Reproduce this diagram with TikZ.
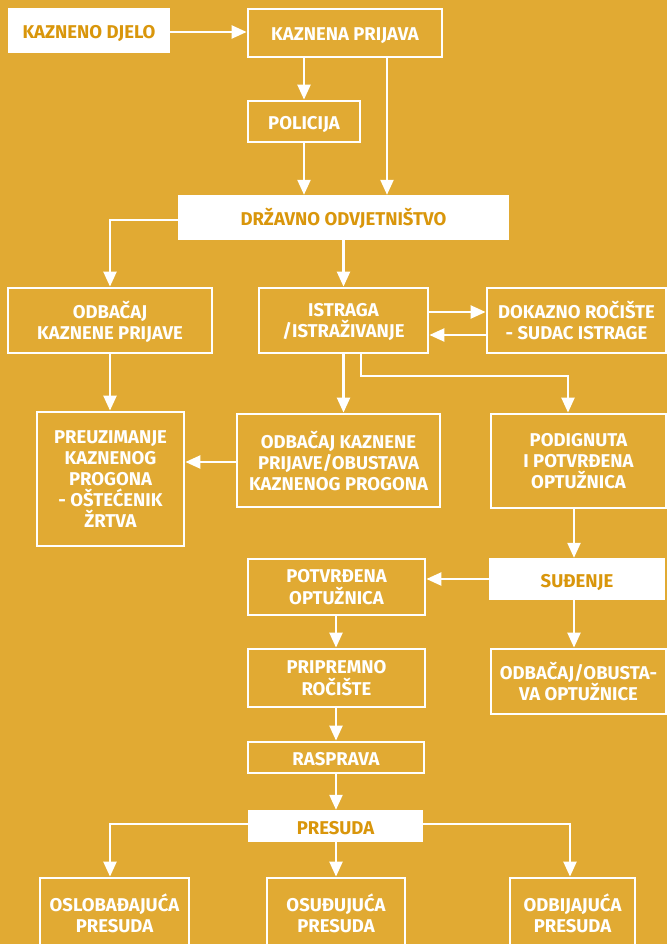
\documentclass[tikz,border=0pt]{standalone}
\usepackage{fontspec}
\newfontfamily\boxfont{Fira Sans}
\usetikzlibrary{arrows.meta}
\definecolor{bgc}{HTML}{E1AA33}
\definecolor{goldtxt}{HTML}{D9960B}
\tikzset{
  base/.style={inner sep=0pt, align=center, text depth=-4pt, font=\boxfont\bfseries\fontsize{18.5}{21.2}\selectfont},
  one/.style={text height=16pt, text depth=0pt},
  obox/.style={base, draw=white, line width=2.8pt, text=white},
  wbox/.style={base, fill=white, text=goldtxt},
  conn/.style={draw=white, line width=2.3pt, -{Triangle[length=15pt,width=13pt]}},
}
\begin{document}
\begin{tikzpicture}[x=1pt,y=-1pt]
\useasboundingbox (0,0) rectangle (667,944);
\fill[bgc] (0,0) rectangle (667,944);
\begin{scope}
\clip (0,0) rectangle (667,944);
\node[wbox, one, minimum width=162pt, minimum height=45pt] (kd) at (89,30.5) {KAZNENO DJELO};
\node[obox, one, minimum width=194pt, minimum height=48pt] (kp) at (345,33) {KAZNENA PRIJAVA};
\node[obox, one, minimum width=112pt, minimum height=41pt] (pol) at (304,121.5) {POLICIJA};
\node[wbox, one, minimum width=331pt, minimum height=45pt] (dor) at (343.5,217.5) {DRŽAVNO ODVJETNIŠTVO};
\node[obox, minimum width=204pt, minimum height=65pt] (odb) at (110,320.5) {ODBAČAJ\\KAZNENE PRIJAVE};
\node[obox, minimum width=169pt, minimum height=65pt] (ist) at (343.5,320.5) {ISTRAGA\\/ISTRAŽIVANJE};
\node[obox, minimum width=179pt, minimum height=65pt] (dok) at (576.5,320.5) {DOKAZNO ROČIŠTE\\- SUDAC ISTRAGE};
\node[obox, minimum width=147pt, minimum height=134pt] (pre) at (110.5,479) {PREUZIMANJE\\KAZNENOG\\PROGONA\\- OŠTEĆENIK\\ŽRTVA};
\node[obox, minimum width=203pt, minimum height=93pt] (oko) at (338.5,460.5) {ODBAČAJ KAZNENE\\PRIJAVE/OBUSTAVA\\KAZNENOG PROGONA};
\node[obox, minimum width=175pt, minimum height=94pt] (pod) at (578.5,461) {PODIGNUTA\\I POTVRĐENA\\OPTUŽNICA};
\node[obox, minimum width=177pt, minimum height=56pt] (pot) at (336.5,587) {POTVRĐENA\\OPTUŽNICA};
\node[wbox, one, minimum width=176pt, minimum height=42pt] (sud) at (577,579) {SUĐENJE};
\node[obox, minimum width=177pt, minimum height=58pt] (prip) at (336.5,678) {PRIPREMNO\\ROČIŠTE};
\node[obox, minimum width=175pt, minimum height=65pt] (oo) at (578.5,681.5) {ODBAČAJ/OBUSTA-\\VA OPTUŽNICE};
\node[obox, one, minimum width=176pt, minimum height=31pt] (ras) at (336,757.5) {RASPRAVA};
\node[wbox, one, minimum width=175pt, minimum height=32pt] (pres) at (335.5,826) {PRESUDA};
\node[obox, minimum width=149pt, minimum height=70pt] (osl) at (114.5,913) {OSLOBAĐAJUĆA\\PRESUDA};
\node[obox, minimum width=138pt, minimum height=70pt] (osu) at (336,913) {OSUĐUJUĆA\\PRESUDA};
\node[obox, minimum width=125pt, minimum height=70pt] (odbi) at (572.5,913) {ODBIJAJUĆA\\PRESUDA};
\end{scope}
% helper coordinates
\coordinate (y32) at (0,32);
\coordinate (x387) at (387,0);
\coordinate (y220) at (0,220);
\coordinate (y312) at (0,312);
\coordinate (y335) at (0,335);
\coordinate (x361) at (361,0);
\coordinate (x568) at (568,0);
\coordinate (y462) at (0,462);
\coordinate (x574) at (574,0);
\coordinate (y579) at (0,579);
\coordinate (x336) at (336,0);
\coordinate (y824) at (0,824);
\coordinate (x110) at (110,0);
\coordinate (x570) at (570,0);
\coordinate (bend) at (568,376);
% connectors
\draw[conn] (kd.east |- y32) -- (kp.west |- y32);
\draw[conn] (kp.south -| pol) -- (pol.north);
\draw[conn] (kp.south -| x387) -- (dor.north -| x387);
\draw[conn] (pol.south) -- (dor.north -| pol);
\draw[conn] (dor.west |- y220) -| (odb.north);
\draw[conn] (dor.south -| ist) -- (ist.north);
\draw[conn] (ist.east |- y312) -- (dok.west |- y312);
\draw[conn] (dok.west |- y335) -- (ist.east |- y335);
\draw[conn] (odb.south) -- (odb.south |- pre.north);
\draw[conn] (ist.south) -- (ist.south |- oko.north);
\draw[conn] (ist.south -| x361) |- (bend) -- (x568 |- pod.north);
\draw[conn] (oko.west |- y462) -- (pre.east |- y462);
\draw[conn] (pod.south -| x574) -- (sud.north -| x574);
\draw[conn] (sud.west |- y579) -- (pot.east |- y579);
\draw[conn] (sud.south -| x574) -- (oo.north -| x574);
\draw[conn] (pot.south -| x336) -- (prip.north -| x336);
\draw[conn] (prip.south -| x336) -- (ras.north -| x336);
\draw[conn] (ras.south -| x336) -- (pres.north -| x336);
\draw[conn] (pres.west |- y824) -| (x110 |- osl.north);
\draw[conn] (pres.south -| x336) -- (osu.north -| x336);
\draw[conn] (pres.east |- y824) -| (x570 |- odbi.north);
\end{tikzpicture}
\end{document}
